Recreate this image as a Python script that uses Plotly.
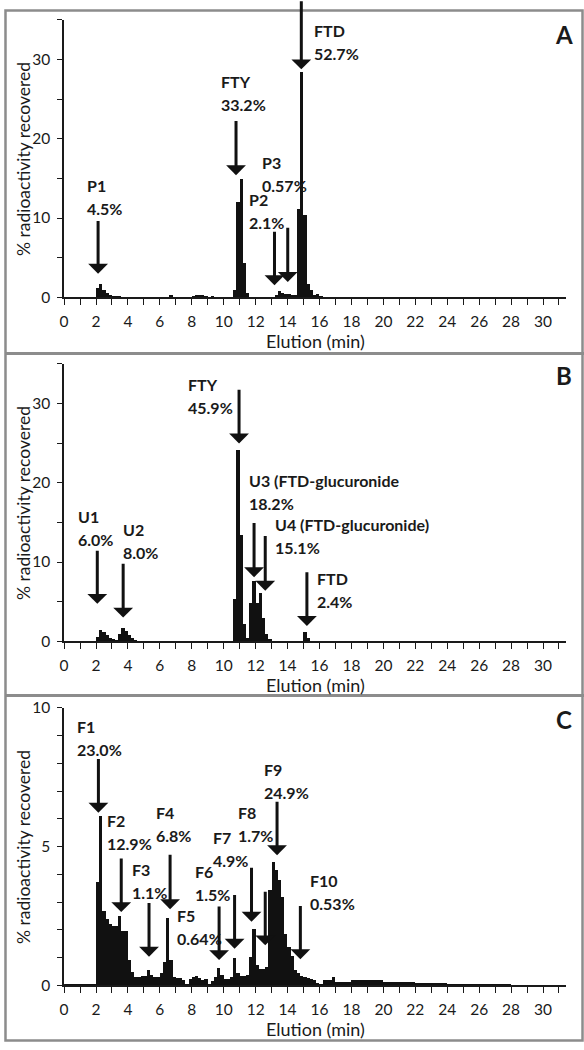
import plotly.graph_objects as go

# ---------------- data ----------------
# fraction collection windows (min)
FRACTION_START = [
    0.0, 1.0,
    2.0, 2.2, 2.4, 2.6, 2.8, 3.0, 3.2, 3.4, 3.6, 3.8,
    4.0, 4.2, 4.4, 4.6, 4.8, 5.0, 5.2, 5.4, 5.6, 5.8,
    6.0, 6.2, 6.4, 6.6, 6.8, 7.0, 7.2, 7.4, 7.6, 7.8,
    8.0, 8.2, 8.4, 8.6, 8.8, 9.0, 9.2, 9.4, 9.6, 9.8,
    10.0, 10.2, 10.4, 10.6, 10.8, 11.0, 11.2, 11.4, 11.6, 11.8,
    12.0, 12.2, 12.4, 12.6, 12.8, 13.0, 13.2, 13.4, 13.6, 13.8,
    14.0, 14.2, 14.4, 14.6, 14.8, 15.0, 15.2, 15.4, 15.6, 15.8,
    16.0, 16.2, 16.4, 16.6, 16.8, 17.0, 18.0, 20.0, 22.0, 24.0, 26.0,
]
FRACTION_END = FRACTION_START[1:] + [28.0]

# % radioactivity recovered per fraction
PCT_A = [
    0, 0,
    1.2, 1.65, 0.9, 0.6, 0.35, 0.2, 0.1, 0.08, 0.05, 0.05,
    0.05, 0.04, 0.05, 0.05, 0.04, 0.04, 0.05, 0.04, 0.03, 0.03,
    0.03, 0.03, 0.05, 0.25, 0.03, 0.02, 0.02, 0.02, 0.02, 0.02,
    0.15, 0.25, 0.3, 0.3, 0.15, 0.03, 0.12, 0.02, 0.02, 0.02,
    0.02, 0.02, 0.02, 0.9, 12.1, 15.0, 4.3, 0.6, 0.05, 0.03,
    0.02, 0.02, 0.02, 0.02, 0.05, 0.05, 0.3, 0.87, 0.6, 0.5,
    0.45, 0.35, 0.3, 11.1, 28.4, 10.4, 1.74, 0.91, 0.29, 0.45,
    0.08, 0, 0, 0, 0, 0, 0, 0, 0, 0, 0,
]
PCT_B = [
    0, 0,
    0.55, 1.45, 1.25, 0.8, 0.5, 0.3, 0.2, 0.9, 1.65, 1.33,
    0.8, 0.5, 0.22, 0.05, 0, 0, 0, 0, 0, 0,
    0, 0, 0, 0, 0, 0, 0, 0, 0, 0,
    0, 0, 0, 0, 0, 0, 0, 0.03, 0.05, 0.03,
    0, 0, 0, 5.3, 24.1, 13.4, 2.2, 0.5, 4.9, 7.6,
    4.9, 6.1, 3.0, 0.9, 0.3, 0.05, 0.03, 0.02, 0.05, 0.03,
    0.03, 0.05, 0.05, 0.03, 0.05, 1.25, 0.4, 0.05, 0, 0,
    0, 0, 0, 0, 0, 0, 0, 0, 0, 0, 0,
]
PCT_C = [
    0.05, 0.05,
    3.74, 6.1, 2.68, 2.38, 2.2, 2.15, 2.15, 2.5, 1.97, 1.97,
    0.93, 0.5, 0.3, 0.32, 0.35, 0.35, 0.55, 0.38, 0.3, 0.3,
    0.44, 0.85, 2.44, 0.93, 0.32, 0.28, 0.26, 0.2, 0.05, 0.25,
    0.3, 0.35, 0.26, 0.2, 0.25, 0.05, 0.15, 0.32, 0.64, 0.38,
    0.22, 0.25, 0.32, 0.99, 0.44, 0.34, 0.34, 0.38, 1.03, 2.03,
    0.73, 0.58, 0.6, 0.67, 3.45, 4.45, 4.15, 3.8, 3.2, 1.85,
    1.38, 1.05, 0.55, 0.45, 0.35, 0.32, 0.26, 0.22, 0.18, 0.1,
    0.02, 0.2, 0.2, 0.2, 0.3, 0.14, 0.21, 0.14, 0.1, 0.07, 0.06,
]

PEAK_NAMES_A = ["P1", "FTY", "P2", "P3", "FTD"]
PEAK_PCTS_A = ["4.5%", "33.2%", "2.1%", "0.57%", "52.7%"]
PEAK_NAMES_B = ["U1", "U2", "FTY", "U3 (FTD-glucuronide", "U4 (FTD-glucuronide)", "FTD"]
PEAK_PCTS_B = ["6.0%", "8.0%", "45.9%", "18.2%", "15.1%", "2.4%"]
PEAK_NAMES_C = ["F1", "F2", "F3", "F4", "F5", "F6", "F7", "F8", "F9", "F10"]
PEAK_PCTS_C = ["23.0%", "12.9%", "1.1%", "6.8%", "0.64%", "1.5%", "4.9%", "1.7%", "24.9%", "0.53%"]

# ---------------- annotation placement (axis units) ----------------
# label: (text_x, text_y) ; arrow: (x, tail_y, tip_y)
LABEL_POS_A = [(1.34, 14.13), (9.71, 27.2), (11.45, 12.29), (12.3, 17.05), (15.54, 33.6)]
ARROW_POS_A = [(2.13, 9.69, 2.98), (10.77, 22.3, 15.4), (13.18, 8.32, 1.53),
               (14.01, 8.82, 1.94), (14.86, 37.4, 28.76)]
LABEL_POS_B = [(0.74, 15.75), (3.58, 14.05), (7.63, 32.34), (11.45, 20.27), (13.06, 14.68), (15.72, 7.96)]
ARROW_POS_B = [(2.08, 11.48, 4.73), (3.70, 9.83, 2.99), (10.96, 31.79, 24.95),
               (11.9, 15.0, 8.08), (12.6, 13.35, 6.38), (15.21, 8.78, 1.94)]
LABEL_POS_C = [(0.70, 9.33), (2.59, 5.93), (4.12, 4.16), (5.62, 6.22), (6.93, 2.53),
               (8.09, 4.1), (9.2, 5.33), (10.75, 6.22), (12.41, 7.76), (15.3, 3.77)]
ARROW_POS_C = [(2.15, 8.17, 6.22), (3.58, 4.59, 2.64), (5.32, 2.98, 1.03), (6.64, 4.72, 2.74),
               (9.71, 2.86, 0.91), (10.68, 3.27, 1.32), (11.74, 4.25, 2.29), (12.6, 3.39, 1.44),
               (13.34, 6.63, 4.69), (14.8, 2.88, 0.94)]

# ---------------- styling ----------------
FONT = "Lato"
INK = "#1a1a1a"
W, H = 584, 1050
PX_L, PX_R = 59.6, 566.0
PANELS = [  # (top px, bottom px, y max, dtick, minor dtick)
    (10.0, 292.3, 35, 10, 5),
    (360.0, 642.3, 35, 10, 5),
    (710.0, 992.3, 10, 5, 1),
]


def py2paper(py):
    return 1 - py / H


fig = go.Figure()
centers = [(s + e) / 2 for s, e in zip(FRACTION_START, FRACTION_END)]
widths = [e - s for s, e in zip(FRACTION_START, FRACTION_END)]
for i, vals in enumerate([PCT_A, PCT_B, PCT_C]):
    sfx = "" if i == 0 else str(i + 1)
    fig.add_trace(go.Bar(x=centers, y=vals, width=widths, xaxis="x" + sfx, yaxis="y" + sfx,
                         marker=dict(color="#111111", line=dict(width=0)), showlegend=False,
                         hoverinfo="skip"))

layout = dict(width=W, height=H, margin=dict(l=0, r=0, t=0, b=0),
              plot_bgcolor="white", paper_bgcolor="white", bargap=0,
              font=dict(family=FONT, color=INK))
for i, (top, bot, ymax, dt, mdt) in enumerate(PANELS):
    sfx = "" if i == 0 else str(i + 1)
    layout["xaxis" + sfx] = dict(
        domain=[PX_L / W, PX_R / W], anchor="y" + sfx, range=[0, 31.45],
        tickmode="linear", tick0=0, dtick=2, ticks="outside", ticklen=6, tickwidth=1.3,
        tickcolor=INK, showline=True, linecolor=INK, linewidth=1.6, showgrid=False,
        zeroline=False, tickfont=dict(family=FONT, size=15.5, color=INK), ticklabelstandoff=3,
        minor=dict(tick0=0, dtick=1, ticks="outside", ticklen=6, tickwidth=1.3, tickcolor=INK,
                   showgrid=False))
    layout["yaxis" + sfx] = dict(
        domain=[py2paper(bot), py2paper(top)], anchor="x" + sfx, range=[0, ymax],
        tickmode="linear", tick0=0, dtick=dt, ticks="outside", ticklen=5, tickwidth=1.3,
        tickcolor=INK, showline=True, linecolor=INK, linewidth=1.6, showgrid=False,
        zeroline=False, tickfont=dict(family=FONT, size=15.5, color=INK), ticklabelstandoff=4,
        minor=dict(tick0=0, dtick=mdt, ticks="outside", ticklen=5, tickwidth=1.3, tickcolor=INK,
                   showgrid=False))

annotations = []
panel_letters = ["A", "B", "C"]
letter_py = [24.5, 371.5, 721.5]
xtitle_py = [336.7, 686.7, 1036.7]
for i, (top, bot, ymax, dt, mdt) in enumerate(PANELS):
    annotations.append(dict(text="<b>%s</b>" % panel_letters[i], xref="paper", yref="paper",
                            x=564 / W, y=py2paper(letter_py[i]), xanchor="center",
                            yanchor="middle", showarrow=False,
                            font=dict(size=24, family=FONT, color=INK)))
    annotations.append(dict(text="Elution (min)", xref="paper", yref="paper",
                            x=(PX_L + PX_R) / 2 / W, y=py2paper(xtitle_py[i]),
                            xanchor="center", yanchor="middle", showarrow=False,
                            font=dict(size=18, family=FONT, color=INK)))
    annotations.append(dict(text="% radioactivity recovered", xref="paper", yref="paper",
                            x=18.6 / W, y=py2paper((top + bot) / 2), xanchor="center",
                            yanchor="middle", showarrow=False, textangle=-90,
                            font=dict(size=17.5, family=FONT, color=INK)))

groups = [
    (PEAK_NAMES_A, PEAK_PCTS_A, LABEL_POS_A, ARROW_POS_A, ""),
    (PEAK_NAMES_B, PEAK_PCTS_B, LABEL_POS_B, ARROW_POS_B, "2"),
    (PEAK_NAMES_C, PEAK_PCTS_C, LABEL_POS_C, ARROW_POS_C, "3"),
]
for names, pcts, lpos, apos, sfx in groups:
    for name, pct, (tx, ty) in zip(names, pcts, lpos):
        for txt, shift in [(name, 0), (pct, -23)]:
            annotations.append(dict(text="<b>%s</b>" % txt, xref="x" + sfx, yref="y" + sfx,
                                    x=tx, y=ty, yshift=shift, xanchor="left", yanchor="middle",
                                    showarrow=False, font=dict(size=16, family=FONT, color=INK)))
    for (axx, tail, tip) in apos:
        annotations.append(dict(text="", xref="x" + sfx, yref="y" + sfx, x=axx, y=tip,
                                axref="x" + sfx, ayref="y" + sfx, ax=axx, ay=tail,
                                showarrow=True, arrowhead=1, arrowsize=1.1, arrowwidth=3,
                                arrowcolor="#111111", standoff=0, startstandoff=0, borderpad=0))
layout["annotations"] = annotations

BORDER = "#8c8c8c"
layout["shapes"] = [
    dict(type="rect", xref="paper", yref="paper", x0=0.5 / W, x1=1 - 1.5 / W, y0=1.5 / H,
         y1=1 - 0.5 / H, line=dict(color=BORDER, width=2.5)),
    dict(type="line", xref="paper", yref="paper", x0=0, x1=1, y0=py2paper(349.5),
         y1=py2paper(349.5), line=dict(color=BORDER, width=3)),
    dict(type="line", xref="paper", yref="paper", x0=0, x1=1, y0=py2paper(697.5),
         y1=py2paper(697.5), line=dict(color=BORDER, width=3)),
]

fig.update_layout(**layout)
fig.write_html("out.html", config={"displayModeBar": False},
               post_script="document.body.style.margin='0';document.body.style.overflow='hidden';")
